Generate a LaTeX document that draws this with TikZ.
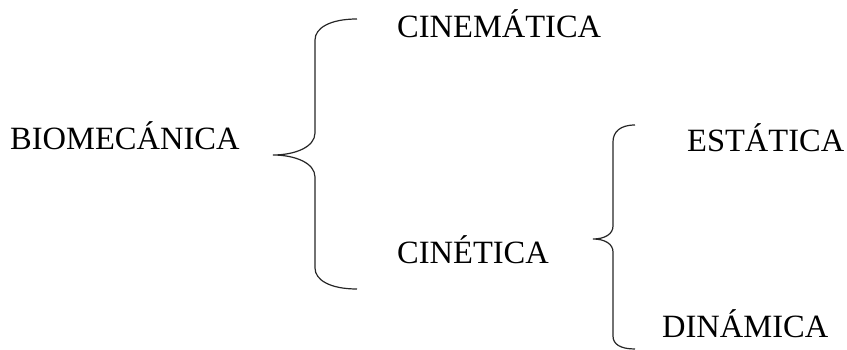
\documentclass[tikz,border=0pt]{standalone}
\usepackage{fontspec}
\setmainfont{Liberation Serif}
\begin{document}
\begin{tikzpicture}[x=1pt,y=-1pt,
  lbl/.style={anchor=base west,inner sep=0pt,font=\fontsize{32.5}{36}\selectfont},
  brace/.style={draw=black!85,line width=1.2pt}]
\useasboundingbox (0,0) rectangle (847,350);
\node[lbl] (bio) at (10,150) {BIOMECÁNICA};
\node[lbl] (cin) at (397,38) {CINEMÁTICA};
\node[lbl] (cine) at (397,263) {CINÉTICA};
\node[lbl] (est) at (687,152) {ESTÁTICA};
\node[lbl] (din) at (662,337) {DINÁMICA};
% big brace
\path[brace] (357,19) .. controls (330,19) and (315,28) .. (315,40)
  -- (315,133) .. controls (315,147) and (295,155) .. (273,155)
  .. controls (295,155) and (315,163) .. (315,177)
  -- (315,268) .. controls (315,280) and (330,289) .. (357,289);
% small brace
\path[brace] (635,125) .. controls (620,125) and (613,132) .. (613,142)
  -- (613,226) .. controls (613,234) and (605,239) .. (593,239)
  .. controls (605,239) and (613,244) .. (613,252)
  -- (613,336) .. controls (613,344) and (620,349) .. (635,349);
\end{tikzpicture}
\end{document}
